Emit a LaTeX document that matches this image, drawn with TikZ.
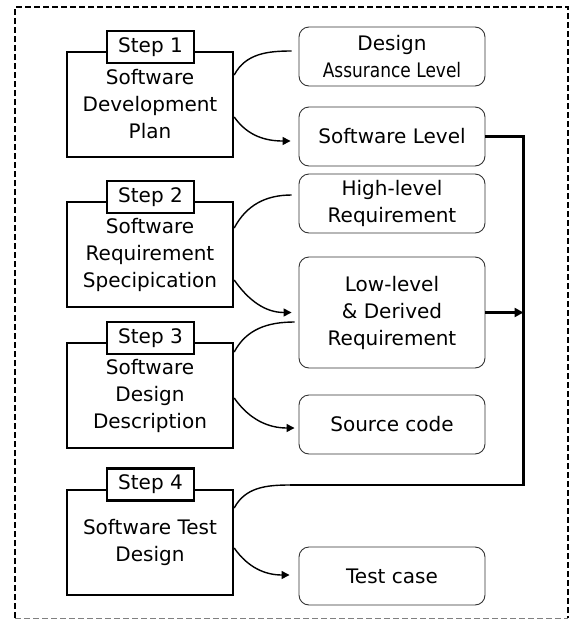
\documentclass[tikz,border=0pt]{standalone}
\usepackage{fontspec}
\usepackage{graphicx}
\setmainfont{DejaVu Sans}
\usetikzlibrary{arrows.meta}
\begin{document}
\begin{tikzpicture}[x=1pt,y=-1pt,
  txt/.style={font=\fontsize{20}{27}\selectfont, align=center, inner sep=0pt},
  stepbox/.style={txt, draw, line width=2.4pt, minimum width=166pt, minimum height=105pt},
  steplabel/.style={txt, draw, fill=white, line width=2.2pt, minimum width=87pt, minimum height=32pt},
  outbox/.style={txt, draw=black!80, line width=0.9pt, rounded corners=10pt, minimum width=186pt},
  conn/.style={line width=1.4pt},
  arr/.style={conn, -{Triangle[length=8pt,width=8pt]}},
  thickline/.style={line width=2.8pt}]
\useasboundingbox (0,0) rectangle (570,619);
% outer dashed frame
\draw[line width=1.8pt, dash pattern=on 6pt off 3pt] (15,618) -- (15,7) -- (568,7) -- (568,618);
\draw[black!50, line width=1pt, dash pattern=on 6pt off 3pt] (15,618) -- (568,618);

% step boxes
\node[stepbox] (s1) at (150,104.5) {Software\\Development\\Plan};
\node[stepbox] (s2) at (150,254.5) {Software\\Requirement\\Specipication};
\node[stepbox] (s3) at (150,395.5) {Software\\Design\\Description};
\node[stepbox] (s4) at (150,542.5) {Software Test\\Design};
\node[steplabel] (l1) at (150.5,47) {Step 1};
\node[steplabel] (l2) at (150.5,197) {Step 2};
\node[steplabel] (l3) at (150.5,338) {Step 3};
\node[steplabel] (l4) at (150.5,484.5) {Step 4};

% output boxes
\node[outbox, minimum height=59pt] (dal) at (392,56.5) {Design\\\scalebox{0.85}[1]{Assurance Level}};
\node[outbox, minimum height=59pt] (swl) at (392,136.5) {Software Level};
\node[outbox, minimum height=59pt] (hlr) at (392,203.5) {High-level\\Requirement};
\node[outbox, minimum height=111pt] (llr) at (392,312.5) {Low-level\\\& Derived\\Requirement};
\node[outbox, minimum height=59pt] (src) at (392,424.5) {Source code};
\node[outbox, minimum height=58pt] (tc) at (392,576) {Test case};

% connectors
\draw[conn] ([yshift=29.5pt]s1.east) to[out=62,in=180] ([xshift=-7pt,yshift=5.5pt]dal.west);
\draw[arr] ([yshift=-12.5pt]s1.east) to[out=-55,in=180] ([xshift=-8pt,yshift=-4.5pt]swl.west);
\draw[conn] ([yshift=26.5pt]s2.east) to[out=62,in=180] ([xshift=-7pt,yshift=8.5pt]hlr.west);
\draw[arr] ([yshift=-25.5pt]s2.east) to[out=-55,in=180] ([xshift=-7pt]llr.west);
\draw[conn] ([yshift=43.5pt]s3.east) to[out=62,in=180] ([xshift=-4pt,yshift=-9.5pt]llr.west);
\draw[arr] ([yshift=-2.5pt]s3.east) to[out=-55,in=180] ([xshift=-4pt,yshift=-3.5pt]src.west);

\coordinate (corner) at (523.5,485);
\coordinate (j) at (290,485);
\draw[conn] ([yshift=34.5pt]s4.east) to[out=62,in=180] (j);
\draw[arr] ([yshift=-5.5pt]s4.east) to[out=-55,in=180] ([xshift=-9pt,yshift=1pt]tc.west);

\draw[thickline] (swl.east) -| (corner) -- (j);
\draw[thickline, -{Triangle[length=9pt,width=9pt]}] (llr.east) -- (llr.east -| corner);
\end{tikzpicture}
\end{document}
